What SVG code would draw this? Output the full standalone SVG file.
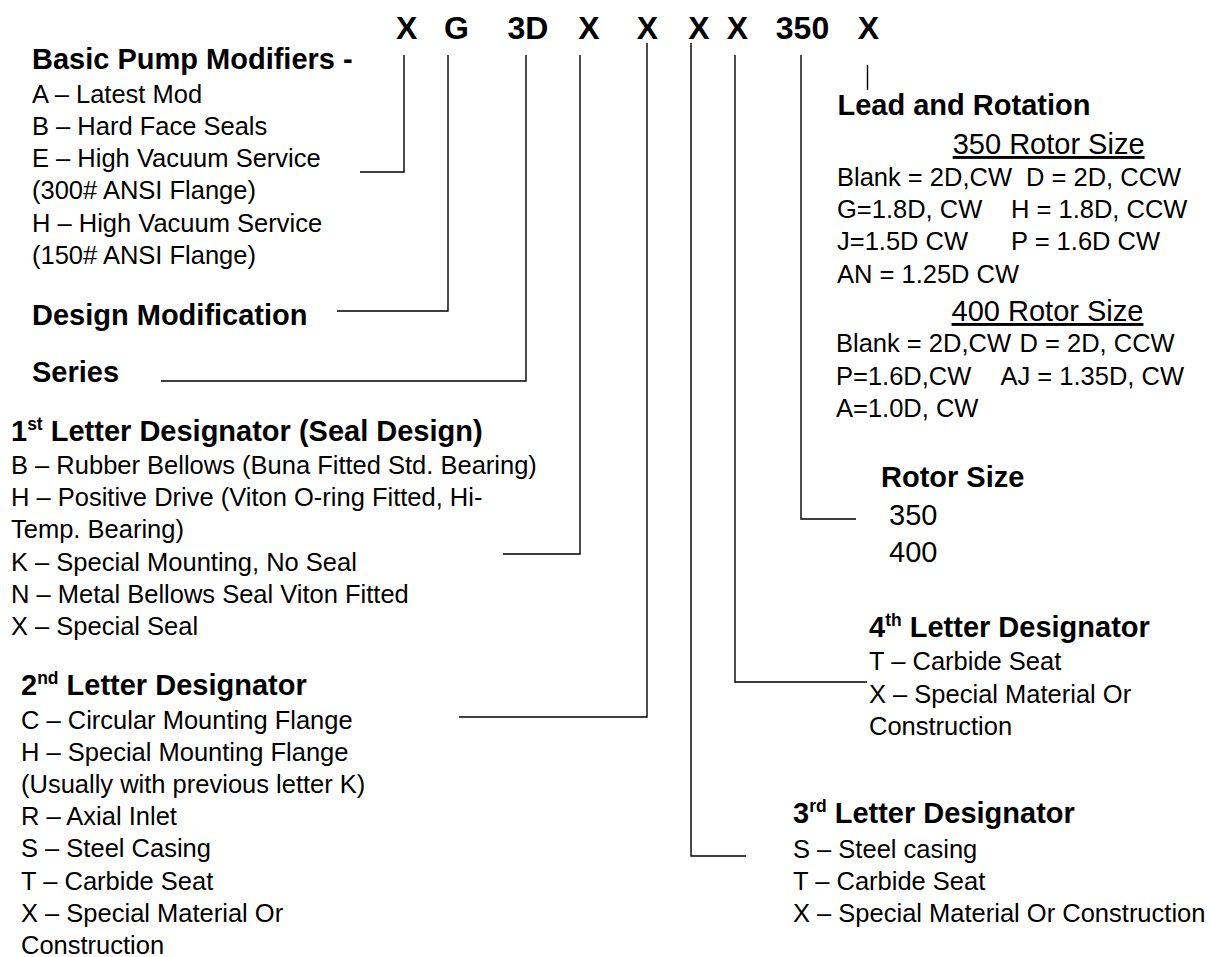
<svg xmlns="http://www.w3.org/2000/svg" width="1209" height="957" viewBox="0 0 1209 957">
<style>
text{font-family:"Liberation Sans",Arial,sans-serif;fill:#000}
.b{font-size:25.5px}
.h{font-size:29px;font-weight:bold}
.code{font-size:32px;font-weight:bold}
.sup{font-size:17.5px}
.r{font-size:29px}
.u{font-size:29px;text-decoration:underline}
.c{fill:none;stroke:#000;stroke-width:1.4}
</style>
<rect width="1209" height="957" fill="#fff"/>
<g id="code" class="code" text-anchor="middle">
<text x="406.7" y="39">X</text>
<text x="456.5" y="39">G</text>
<text x="528" y="39">3D</text>
<text x="589" y="39">X</text>
<text x="647.5" y="39">X</text>
<text x="699" y="39">X</text>
<text x="737.5" y="39">X</text>
<text x="802.5" y="39">350</text>
<text x="868.5" y="39">X</text>
</g>
<g id="connectors" class="c">
<path d="M404 55V172H360"/>
<path d="M448 55V311H337"/>
<path d="M526 55V381H161"/>
<path d="M580 55V554H503"/>
<path d="M647 43V717H459"/>
<path d="M691 43V856H746"/>
<path d="M735 55V682H867"/>
<path d="M801 55V519H856"/>
<path d="M867.5 65V90"/>
</g>
<g id="basic-pump-modifiers">
<text class="h" x="32" y="69">Basic Pump Modifiers -</text>
<text class="b" x="32" y="103">A – Latest Mod</text>
<text class="b" x="32" y="135">B – Hard Face Seals</text>
<text class="b" x="32" y="167">E – High Vacuum Service</text>
<text class="b" x="32" y="199">(300# ANSI Flange)</text>
<text class="b" x="32" y="232">H – High Vacuum Service</text>
<text class="b" x="32" y="264">(150# ANSI Flange)</text>
</g>
<g id="design-modification">
<text class="h" x="32" y="325">Design Modification</text>
</g>
<g id="series">
<text class="h" x="32" y="382">Series</text>
</g>
<g id="first-letter">
<text class="h" x="11" y="441">1<tspan class="sup" dy="-11">st</tspan><tspan dy="11"> Letter Designator (Seal Design)</tspan></text>
<text class="b" x="11" y="474">B – Rubber Bellows (Buna Fitted Std. Bearing)</text>
<text class="b" x="11" y="506">H – Positive Drive (Viton O-ring Fitted, Hi-</text>
<text class="b" x="11" y="538">Temp. Bearing)</text>
<text class="b" x="11" y="571">K – Special Mounting, No Seal</text>
<text class="b" x="11" y="603">N – Metal Bellows Seal Viton Fitted</text>
<text class="b" x="11" y="635">X – Special Seal</text>
</g>
<g id="second-letter">
<text class="h" x="21" y="695">2<tspan class="sup" dy="-11">nd</tspan><tspan dy="11"> Letter Designator</tspan></text>
<text class="b" x="21" y="729">C – Circular Mounting Flange</text>
<text class="b" x="21" y="761">H – Special Mounting Flange</text>
<text class="b" x="21" y="793">(Usually with previous letter K)</text>
<text class="b" x="21" y="825">R – Axial Inlet</text>
<text class="b" x="21" y="857">S – Steel Casing</text>
<text class="b" x="21" y="890">T – Carbide Seat</text>
<text class="b" x="21" y="922">X – Special Material Or</text>
<text class="b" x="21" y="954">Construction</text>
</g>
<g id="lead-and-rotation">
<text class="h" x="837.5" y="115">Lead and Rotation</text>
<text class="u" x="952.7" y="154">350 Rotor Size</text>
<text class="b" x="837" y="186">Blank = 2D,CW<tspan x="1026">D = 2D, CCW</tspan></text>
<text class="b" x="837" y="218">G=1.8D, CW<tspan x="1011">H = 1.8D, CCW</tspan></text>
<text class="b" x="837" y="250">J=1.5D CW<tspan x="1011">P = 1.6D CW</tspan></text>
<text class="b" x="837" y="283">AN = 1.25D CW</text>
<text class="u" x="951.6" y="321">400 Rotor Size</text>
<text class="b" x="836" y="352">Blank = 2D,CW<tspan x="1019.5">D = 2D, CCW</tspan></text>
<text class="b" x="836" y="385">P=1.6D,CW<tspan x="1000.5">AJ = 1.35D, CW</tspan></text>
<text class="b" x="836" y="417">A=1.0D, CW</text>
</g>
<g id="rotor-size">
<text class="h" x="881" y="487">Rotor Size</text>
<text class="r" x="889" y="525">350</text>
<text class="r" x="889" y="562">400</text>
</g>
<g id="fourth-letter">
<text class="h" x="869" y="637">4<tspan class="sup" dy="-11">th</tspan><tspan dy="11"> Letter Designator</tspan></text>
<text class="b" x="869" y="670">T – Carbide Seat</text>
<text class="b" x="869" y="703">X – Special Material Or</text>
<text class="b" x="869" y="735">Construction</text>
</g>
<g id="third-letter">
<text class="h" x="793" y="823">3<tspan class="sup" dy="-11">rd</tspan><tspan dy="11"> Letter Designator</tspan></text>
<text class="b" x="793" y="858">S – Steel casing</text>
<text class="b" x="793" y="890">T – Carbide Seat</text>
<text class="b" x="793" y="922">X – Special Material Or Construction</text>
</g>
</svg>
